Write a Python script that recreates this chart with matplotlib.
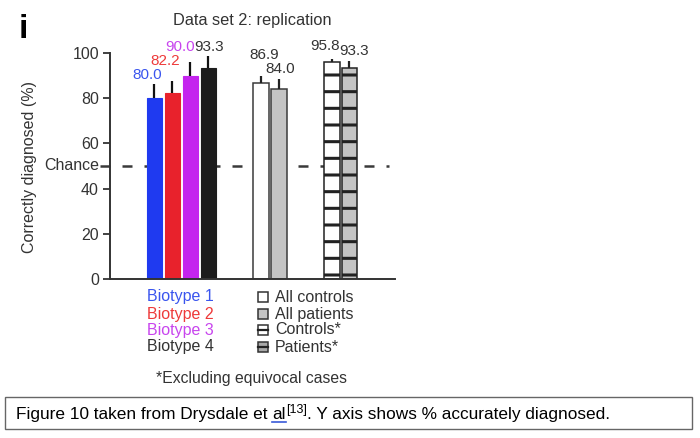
import numpy as np
import matplotlib.pyplot as plt
from matplotlib.patches import Rectangle
from matplotlib.lines import Line2D

plt.rcParams['font.family'] = ['Liberation Sans', 'DejaVu Sans']
plt.rcParams['hatch.linewidth'] = 2.2

# data
biotype_labels = ['Biotype 1', 'Biotype 2', 'Biotype 3', 'Biotype 4']
biotype_values = [80.0, 82.2, 90.0, 93.3]
biotype_err = [6.2, 5.5, 6.0, 5.4]
all_labels = ['All controls', 'All patients']
all_values = [86.9, 84.0]
all_err = [3.0, 4.4]
excl_labels = ['Controls*', 'Patients*']
excl_values = [95.8, 93.3]
excl_err = [1.5, 3.3]
chance = 50
yticks = [0, 20, 40, 60, 80, 100]

text_col = '#333333'
bio_colors = ['#1f3af0', '#e8222c', '#c424ee', '#1c1c1c']
bio_text_colors = ['#3a55ee', '#ee3a3a', '#c845ee', '#333333']

W, H = 700, 438
fig = plt.figure(figsize=(7, 4.38), dpi=100)
ax = fig.add_axes([110 / W, 1 - 279 / H, 285 / W, 226 / H])

x_bio = np.arange(4)
x_all = np.array([5.92, 6.94])
x_excl = np.array([9.86, 10.83])
w = 0.88

ax.plot([-3.0, 13.0], [chance, chance], ls=(0, (4, 4.8)), color='#3a3a3a', lw=1.8, zorder=1, clip_on=False)

ax.bar(x_bio, biotype_values, w, color=bio_colors, edgecolor=bio_colors, lw=0.8, zorder=2)
ax.errorbar(x_bio, biotype_values, yerr=[[0] * 4, biotype_err], fmt='none', ecolor='#111111', elinewidth=1.6, zorder=3)
ax.bar(x_all, all_values, w, color=['white', '#c4c4c4'], edgecolor='#3a3a3a', lw=1.1, zorder=2)
ax.errorbar(x_all, all_values, yerr=[[0, 0], all_err], fmt='none', ecolor='#222222', elinewidth=1.6, zorder=3)
ax.bar(x_excl, excl_values, w, color=['white', '#c4c4c4'], edgecolor='#222222', lw=1.1, hatch='-', zorder=2)
ax.errorbar(x_excl, excl_values, yerr=[[0, 0], excl_err], fmt='none', ecolor='#222222', elinewidth=1.6, zorder=3)

# value labels (label centre positions, in data units)
lab_x = [-0.43, 0.58, 1.42, 3.03, 6.08, 6.97, 9.47, 11.06]
lab_y = [90.3, 96.5, 102.6, 102.6, 99.1, 92.9, 103.1, 100.9]
lab_vals = biotype_values + all_values + excl_values
lab_cols = bio_text_colors + [text_col] * 4
for xx, yy, v, c in zip(lab_x, lab_y, lab_vals, lab_cols):
    ax.text(xx, yy, f'{v:.1f}', ha='center', va='center', fontsize=11, color=c, clip_on=False)

ax.set_xlim(-2.47, 13.36)
ax.set_ylim(0, 100)
ax.set_xticks([])
ax.set_yticks(yticks)
ax.tick_params(axis='y', length=5, width=1.3, colors='#333333', labelsize=11.5, pad=3)
ax.text(-3.05, chance, 'Chance', ha='right', va='center', fontsize=11.5, color=text_col)
for s in ['top', 'right']:
    ax.spines[s].set_visible(False)
for s in ['left', 'bottom']:
    ax.spines[s].set_linewidth(1.4)
    ax.spines[s].set_color('#333333')
ax.set_ylabel('Correctly diagnosed (%)', fontsize=11.5, color=text_col)
ax.yaxis.set_label_coords((37 - 110) / 285, (279 - 167) / 226)

fig.text(252 / W, 1 - 20 / H, 'Data set 2: replication', ha='center', va='center', fontsize=11.8, color=text_col)
fig.text(19 / W, 1 - 29 / H, 'i', ha='left', va='center', fontsize=24, fontweight='bold', color='black')

# legend, left column
rows = [297, 314, 330, 347]
for lab, c, y in zip(biotype_labels, bio_text_colors, rows):
    fig.text(147 / W, 1 - y / H, lab, ha='left', va='center', fontsize=11.5, color=c)

# legend, right column
right_labels = all_labels + excl_labels
sq_fill = ['white', '#c4c4c4', 'white', '#a8a8a8']
for i, (lab, y) in enumerate(zip(right_labels, rows)):
    x0, s = 258, 10
    fig.patches.append(Rectangle((x0 / W, 1 - (y + s / 2) / H), s / W, s / H,
                                 transform=fig.transFigure, facecolor=sq_fill[i], edgecolor='#333333', lw=1.1))
    if i >= 2:
        fig.lines.append(Line2D([x0 / W, (x0 + s) / W], [1 - y / H, 1 - y / H],
                                transform=fig.transFigure, color='#222222', lw=1.6))
    fig.text(275 / W, 1 - y / H, lab, ha='left', va='center', fontsize=11.5, color=text_col)
fig.text(252 / W, 1 - 378 / H, '*Excluding equivocal cases', ha='center', va='center', fontsize=11.3,
         color=text_col)

# caption box
fig.patches.append(Rectangle((5 / W, 1 - 429 / H), 687 / W, 32 / H, transform=fig.transFigure,
                             facecolor='white', edgecolor='#666666', lw=1))
cap_fs = 12.4
base_y = 1 - 419 / H
pieces = [('Figure 10 taken from Drysdale et ', cap_fs, 0),
          ('al', cap_fs, 0),
          ('[13]', 9, 6),
          ('. Y axis shows % accurately diagnosed.', cap_fs, 0)]
fig.canvas.draw()
rend = fig.canvas.get_renderer()
xpos = 16
al_box = None
for txt, fs, rise in pieces:
    t = fig.text(xpos / W, base_y + rise / H, txt, ha='left', va='baseline', fontsize=fs, color='black')
    bb = t.get_window_extent(rend)
    if txt == 'al':
        al_box = (xpos, xpos + bb.width)
    xpos += bb.width
fig.lines.append(Line2D([al_box[0] / W, al_box[1] / W], [base_y - 3 / H, base_y - 3 / H],
                        transform=fig.transFigure, color='#3a5ad8', lw=1.2))

fig.savefig('out.png', dpi=100)
